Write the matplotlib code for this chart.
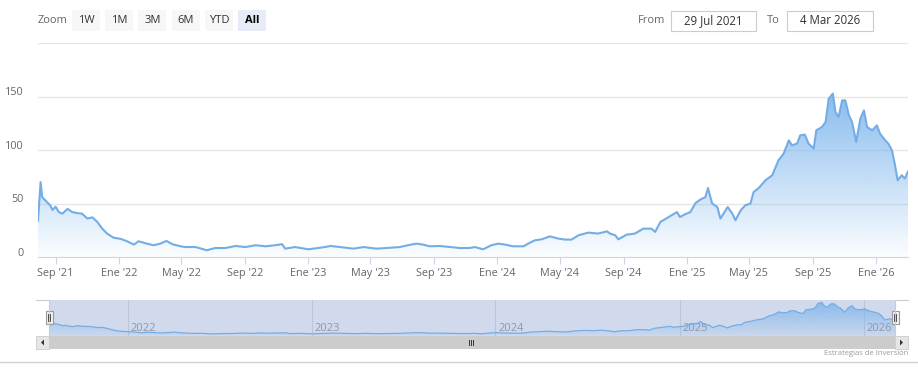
import numpy as np
import pandas as pd
import matplotlib
matplotlib.use("Agg")
import matplotlib.pyplot as plt
import matplotlib.dates as mdates
from matplotlib.patches import Rectangle, PathPatch, Polygon
from matplotlib.colors import to_rgb
from matplotlib.transforms import ScaledTranslation

plt.rcParams['font.family'] = ['Open Sans', 'DejaVu Sans']

# price series
dates = ['2021-07-29', '2021-08-03', '2021-08-06', '2021-08-16', '2021-08-22', '2021-08-26',
         '2021-09-01', '2021-09-07', '2021-09-14', '2021-09-24', '2021-10-03', '2021-10-13',
         '2021-10-22', '2021-11-01', '2021-11-11', '2021-11-20', '2021-11-30', '2021-12-09',
         '2021-12-22', '2022-01-04', '2022-01-17', '2022-01-30', '2022-02-08', '2022-02-24',
         '2022-03-09', '2022-03-22', '2022-04-03', '2022-04-14', '2022-04-30', '2022-05-10',
         '2022-05-29', '2022-06-20', '2022-07-06', '2022-07-26', '2022-08-14', '2022-09-02',
         '2022-09-22', '2022-10-11', '2022-10-30', '2022-11-12', '2022-11-18', '2022-12-07',
         '2023-01-02', '2023-01-21', '2023-02-03', '2023-02-13', '2023-03-04', '2023-03-30',
         '2023-04-18', '2023-05-13', '2023-06-02', '2023-06-27', '2023-07-13', '2023-07-29',
         '2023-08-11', '2023-08-24', '2023-09-12', '2023-10-02', '2023-10-21', '2023-11-09',
         '2023-11-19', '2023-12-05', '2023-12-21', '2024-01-03', '2024-01-16', '2024-02-01',
         '2024-02-21', '2024-03-01', '2024-03-14', '2024-03-27', '2024-04-12', '2024-04-28',
         '2024-05-11', '2024-05-24', '2024-06-06', '2024-06-25', '2024-07-14', '2024-07-31',
         '2024-08-06', '2024-08-16', '2024-08-22', '2024-09-07', '2024-09-23', '2024-10-09',
         '2024-10-25', '2024-11-01', '2024-11-11', '2024-11-27', '2024-12-13', '2024-12-19',
         '2024-12-29', '2025-01-08', '2025-01-18', '2025-01-27', '2025-02-06', '2025-02-11',
         '2025-02-19', '2025-03-01', '2025-03-07', '2025-03-21', '2025-03-30', '2025-04-05',
         '2025-04-15', '2025-04-24', '2025-05-04', '2025-05-10', '2025-05-20', '2025-06-02',
         '2025-06-15', '2025-06-27', '2025-07-07', '2025-07-17', '2025-07-23', '2025-08-02',
         '2025-08-08', '2025-08-17', '2025-08-24', '2025-09-03', '2025-09-08', '2025-09-19',
         '2025-09-26', '2025-10-02', '2025-10-10', '2025-10-15', '2025-10-21', '2025-10-28',
         '2025-11-03', '2025-11-10', '2025-11-16', '2025-11-24', '2025-12-02', '2025-12-09',
         '2025-12-15', '2025-12-25', '2026-01-03', '2026-01-09', '2026-01-19', '2026-01-25',
         '2026-02-01', '2026-02-07', '2026-02-12', '2026-02-20', '2026-02-26', '2026-03-04']
values = [34, 70, 56, 51, 48, 44,
          47, 42, 40.5, 45, 42, 41,
          40.5, 36, 37, 33, 26.5, 22,
          18, 17, 14.7, 11.6, 14.7, 12.5,
          11, 12.5, 15, 12, 10, 9.3,
          9.3, 6.3, 8.4, 8.4, 10.3, 9.3,
          11, 10, 11, 12, 7.8, 9.3,
          7.2, 8.4, 9.3, 10.3, 9.3, 7.8,
          9.3, 7.8, 8.4, 9.3, 11, 12.5,
          11.6, 10, 10.3, 9.3, 8.4, 8.4,
          9.3, 7.2, 11, 12.5, 11.6, 10,
          10, 12.5, 15.6, 16.5, 19.3, 17.2,
          16.3, 16.3, 20.3, 22.8, 21.9, 24,
          21.9, 20.3, 16.5, 20.9, 21.9, 26.5,
          26.5, 23.4, 32.7, 37.4, 42, 37.4,
          40, 42, 50.5, 53.6, 56, 64.5,
          50, 46.7, 35.9, 46.7, 40.5, 34.3,
          43.6, 48.3, 50, 60.7, 64.5, 71.7,
          76.4, 90.4, 96.6, 109, 104.4, 106,
          113.7, 114.4, 106, 101.3, 118.4, 121.5,
          126.2, 148, 152.7, 135.5, 130.8, 146.4,
          146.4, 132.4, 126.2, 107.5, 129.3, 137,
          121.5, 118.4, 123, 115.3, 109, 106,
          99.7, 85.7, 71.7, 76.4, 73.3, 80]

x_ticks = ['2021-09-01', '2022-01-01', '2022-05-01', '2022-09-01', '2023-01-01', '2023-05-01',
           '2023-09-01', '2024-01-01', '2024-05-01', '2024-09-01', '2025-01-01', '2025-05-01',
           '2025-09-01', '2026-01-01']
x_labels = ["Sep '21", "Ene '22", "May '22", "Sep '22", "Ene '23", "May '23", "Sep '23",
            "Ene '24", "May '24", "Sep '24", "Ene '25", "May '25", "Sep '25", "Ene '26"]
y_ticks = [0, 50, 100, 150]
nav_years = ['2022', '2023', '2024', '2025', '2026']
zoom_buttons = ['1W', '1M', '3M', '6M', 'YTD', 'All']
date_from = '29 Jul 2021'
date_to = '4 Mar 2026'

W, H = 918, 382
fig = plt.figure(figsize=(W / 100, H / 100), dpi=100)


def px_axes(x0, y0, x1, y1):
    return fig.add_axes([x0 / W, 1 - y1 / H, (x1 - x0) / W, (y1 - y0) / H])


x = mdates.date2num(pd.to_datetime(dates))
y = np.array(values, dtype=float)
blue = '#7cb5ec'
line_col = '#74ade6'


def gradient_area(ax, x, y, top, a0, a1, z):
    fill = ax.fill_between(x, y, 0, facecolor='none', edgecolor='none')
    clip = PathPatch(fill.get_paths()[0], transform=ax.transData,
                     facecolor='none', edgecolor='none')
    ax.add_patch(clip)
    grad = np.zeros((200, 1, 4))
    grad[:, :, :3] = to_rgb(blue)
    grad[:, 0, 3] = np.linspace(a0, a1, 200)
    im = ax.imshow(grad, aspect='auto', origin='lower',
                   extent=[x.min(), x.max(), 0, top], zorder=z)
    im.set_clip_path(clip)


# main chart
ax = px_axes(38, 43, 908, 257)
gradient_area(ax, x, y, y.max(), 0.03, 0.9, 1)
ax.plot(x, y, color=line_col, lw=1.5, zorder=3)
ax.set_xlim(x[0], x[-1])
ax.set_ylim(0, 200)
for g in [50, 100, 150, 200]:
    ax.axhline(g, color='#e6e6e6', lw=1, zorder=0)
for s in ['top', 'right', 'left']:
    ax.spines[s].set_visible(False)
ax.spines['bottom'].set_color('#ccd6eb')
ax.set_yticks([])
ax.set_xticks(mdates.date2num(pd.to_datetime(x_ticks)))
ax.set_xticklabels(x_labels)
ax.tick_params(axis='x', length=5, color='#ccd6eb', labelcolor='#666666',
               labelsize=7.8, pad=3)
for v in y_ticks:
    ax.text(-0.016, v + 3.7, str(v), transform=ax.get_yaxis_transform(),
            ha='right', va='center', fontsize=7.8, color='#666666')

# navigator
nav = px_axes(49, 300, 895, 336)
nav.set_facecolor('#d1daed')
gradient_area(nav, x, y, y.max(), 0.1, 0.85, 1)
nav.plot(x, y, color=line_col, lw=0.9, zorder=3)
nav.set_xlim(x[0], x[-1])
nav.set_ylim(-3, 164)
nav.set_xticks([])
nav.set_yticks([])
for s in nav.spines.values():
    s.set_visible(False)
off = ScaledTranslation(0.03, 0.02, fig.dpi_scale_trans)
for yr in nav_years:
    xd = mdates.date2num(pd.Timestamp(yr + '-01-01'))
    nav.axvline(xd, color='#bcc6d8', lw=0.8, zorder=0.5)
    nav.text(xd, 0, yr, transform=nav.get_xaxis_transform() + off,
             ha='left', va='bottom', fontsize=8, color='#8f98aa', zorder=4)

# overlay for the range selector, scrollbar and other widgets
ov = fig.add_axes([0, 0, 1, 1], zorder=10)
ov.set_xlim(0, W)
ov.set_ylim(H, 0)
ov.axis('off')
ov.patch.set_alpha(0)

ov.text(38, 20.5, 'Zoom', ha='left', va='center', fontsize=8, color='#666666')
bx = 72
for b in zoom_buttons:
    sel = b == 'All'
    ov.add_patch(Rectangle((bx, 10), 28, 20.5, facecolor='#e6ebf5' if sel else '#f7f7f7',
                           edgecolor='none'))
    ov.text(bx + 14, 20.5, b, ha='center', va='center', fontsize=8,
            color='#000000' if sel else '#333333', fontweight='bold' if sel else 'normal')
    bx += 33.2

ov.text(638, 20.5, 'From', ha='left', va='center', fontsize=8, color='#666666')
ov.add_patch(Rectangle((671, 11), 85, 20, facecolor='white', edgecolor='#cccccc', lw=0.8))
ov.text(713.5, 21, date_from, ha='center', va='center', fontsize=8.3, color='#333333')
ov.text(767, 20.5, 'To', ha='left', va='center', fontsize=8, color='#666666')
ov.add_patch(Rectangle((787, 11), 86, 20, facecolor='white', edgecolor='#cccccc', lw=0.8))
ov.text(830, 21, date_to, ha='center', va='center', fontsize=8.3, color='#333333')

# navigator outline
ov.plot([36, 49, 49, 895, 895, 908], [300, 300, 336, 336, 300, 300], color='#cccccc', lw=0.8)

# scrollbar
ov.add_patch(Rectangle((36, 336), 872, 13, facecolor='#f2f2f2', edgecolor='none'))
ov.add_patch(Rectangle((49, 336), 846, 13, facecolor='#cccccc', edgecolor='none'))
for bx0 in (36, 895):
    ov.add_patch(Rectangle((bx0, 336), 13, 13, facecolor='#e6e6e6', edgecolor='#cccccc', lw=0.6))
ov.add_patch(Polygon([[44, 339.5], [44, 345.5], [41, 342.5]], closed=True, facecolor='#333333'))
ov.add_patch(Polygon([[900, 339.5], [900, 345.5], [903, 342.5]], closed=True, facecolor='#333333'))
for gx in (469, 471, 473):
    ov.plot([gx, gx], [340, 345], color='#333333', lw=0.7)

# handles
for hx in (49, 895):
    ov.add_patch(Rectangle((hx - 3.5, 311), 7, 13, facecolor='#f2f2f2', edgecolor='#999999', lw=0.8))
    for dx in (-1.2, 1.2):
        ov.plot([hx + dx, hx + dx], [314, 321], color='#333333', lw=0.6)

ov.text(908, 353.5, 'Estrategias de Inversión', ha='right', va='center',
        fontsize=5.5, color='#999999')
ov.plot([0, W], [361.5, 361.5], color='#d0d0d0', lw=1)

fig.savefig('out.png', dpi=100)
